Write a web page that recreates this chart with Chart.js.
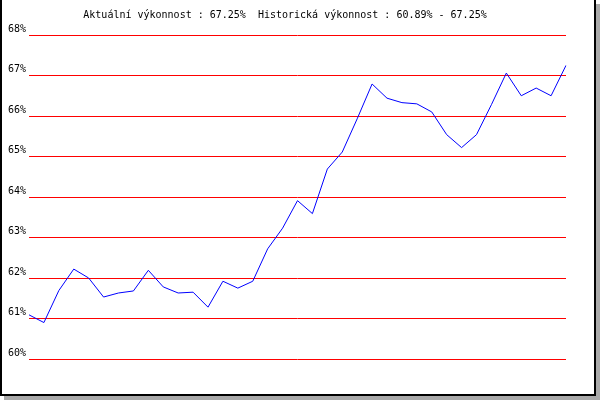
<!DOCTYPE html>
<html>
<head>
<meta charset="utf-8">
<script src="https://cdn.jsdelivr.net/npm/chart.js@4/dist/chart.umd.min.js"></script>
<style>
  html, body { margin: 0; padding: 0; background: #fff; }
  #wrap { position: relative; width: 600px; height: 400px; }
  #ramecek {
    position: absolute; left: 0; top: 0; width: 592px; height: 394px;
    border-left: 2px solid #000; border-right: 2px solid #000; border-bottom: 2px solid #000;
    box-shadow: 4px 4px 0 0 #a9a9a9; background: #fff;
  }
  #graf { position: absolute; left: 0; top: 0; }
</style>
</head>
<body>
<div id="wrap">
  <div id="ramecek"></div>
  <canvas id="graf" width="600" height="400"></canvas>
</div>
<script>
// Data
const nadpis = 'Aktuální výkonnost : 67.25%  Historická výkonnost : 60.89% - 67.25%';
const vykonnost = [
  61.09, 60.90, 61.69, 62.22, 62.00, 61.53, 61.63, 61.68, 62.19, 61.78,
  61.63, 61.65, 61.28, 61.92, 61.75, 61.92, 62.72, 63.23, 63.91, 63.59,
  64.69, 65.11, 65.93, 66.79, 66.44, 66.33, 66.30, 66.10, 65.54, 65.22,
  65.54, 66.28, 67.06, 66.50, 66.69, 66.50, 67.25
];
const obdobi = vykonnost.map((_, i) => i + 1);
const osaY = [60, 61, 62, 63, 64, 65, 66, 67, 68];

const pismo = { family: "'DejaVu Sans Mono', monospace", size: 10 };

new Chart(document.getElementById('graf'), {
  type: 'line',
  data: {
    labels: obdobi,
    datasets: [{
      data: vykonnost,
      borderColor: '#0000ff',
      borderWidth: 1,
      pointRadius: 0,
      tension: 0,
      fill: false
    }]
  },
  options: {
    responsive: false,
    animation: false,
    events: [],
    layout: { padding: { left: 4, right: 34, top: 0, bottom: 41 } },
    plugins: {
      legend: { display: false },
      tooltip: { enabled: false },
      title: {
        display: true,
        text: nadpis,
        color: '#000',
        font: { ...pismo, weight: 'normal' },
        padding: { top: 9, bottom: 14 }
      }
    },
    scales: {
      x: { display: false, offset: false },
      y: {
        min: osaY[0],
        max: osaY[osaY.length - 1],
        afterBuildTicks: s => { s.ticks = osaY.map(v => ({ value: v })); },
        afterFit: s => { s.width = 25; },
        border: { display: false },
        grid: { color: '#ff0000', lineWidth: 1, drawTicks: false },
        ticks: {
          color: '#000',
          font: pismo,
          padding: 3,
          labelOffset: -6,
          callback: v => v + '%'
        }
      }
    }
  }
});
</script>
</body>
</html>
